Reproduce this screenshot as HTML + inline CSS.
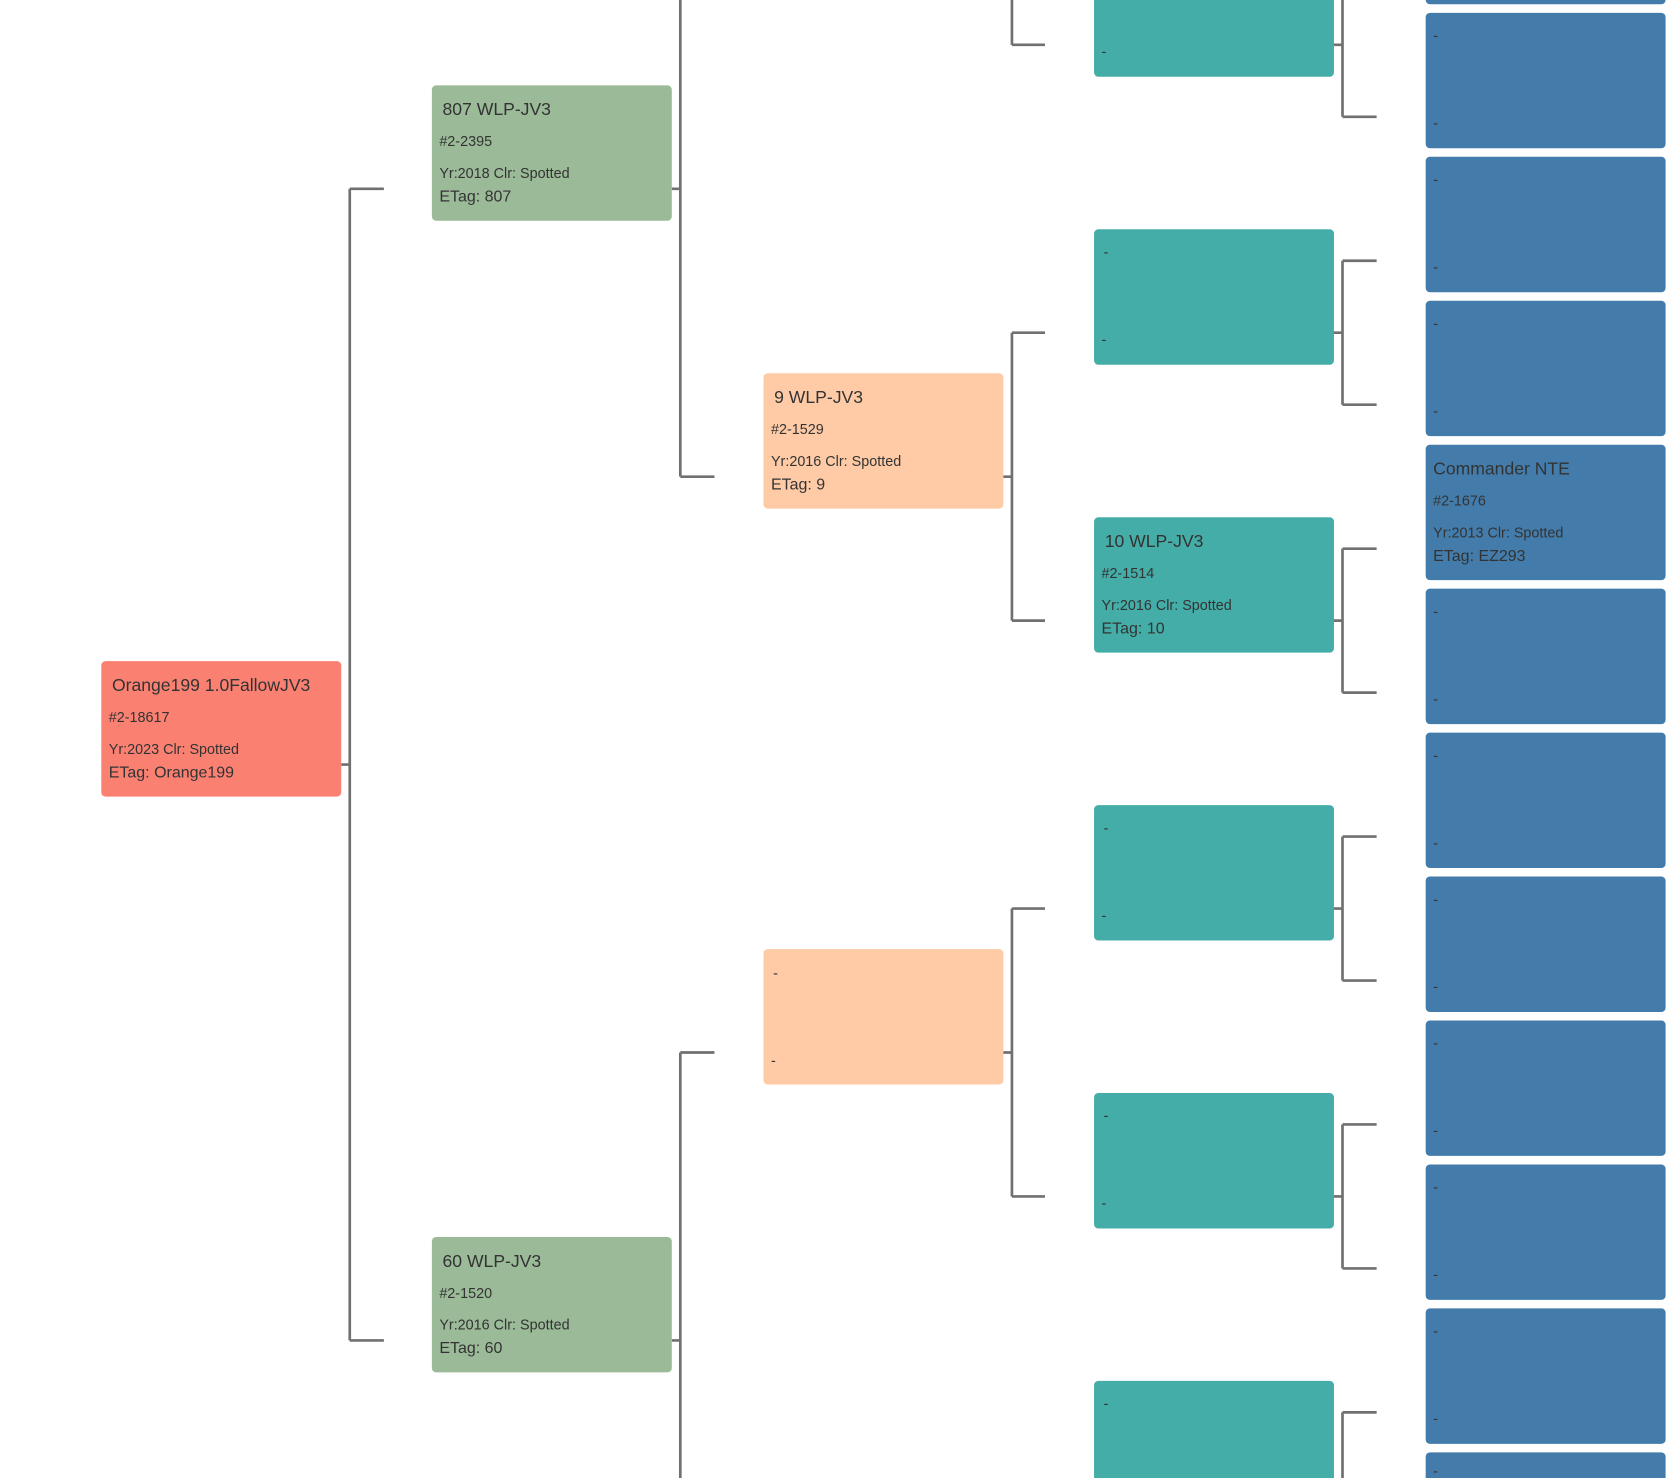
<!DOCTYPE html>
<html><head><meta charset="utf-8"><style>
html,body{margin:0;padding:0;background:#fff;width:1672px;height:1478px;overflow:hidden}
svg{display:block}
text{font-family:"Liberation Sans",sans-serif;fill:#333}
.t{font-size:16.5px}.s{font-size:13.5px}.e{font-size:15px}
</style></head><body>
<svg width="1672" height="1478" viewBox="0 0 1568 1386" xmlns="http://www.w3.org/2000/svg">
<g stroke="#707070" stroke-width="2.5" fill="none">
<path d="M320 717H328M328 177V1257M328 177H360M328 1257H360"/>
<path d="M630 177H638M638 -93V447M638 447H670"/>
<path d="M630 1257H638M638 987V1527M638 987H670"/>
<path d="M940 447H949M949 312V582M949 312H980M949 582H980"/>
<path d="M940 987H949M949 852V1122M949 852H980M949 1122H980"/>
<path d="M949 -228V42M949 42H980"/>
<path d="M1250 42H1259M1259 -25.5V109.5M1259 109.5H1291"/>
<path d="M1250 312H1259M1259 244.5V379.5M1259 244.5H1291M1259 379.5H1291"/>
<path d="M1250 582H1259M1259 514.5V649.5M1259 514.5H1291M1259 649.5H1291"/>
<path d="M1250 852H1259M1259 784.5V919.5M1259 784.5H1291M1259 919.5H1291"/>
<path d="M1250 1122H1259M1259 1054.5V1189.5M1259 1054.5H1291M1259 1189.5H1291"/>
<path d="M1250 1392H1259M1259 1324.5V1459.5M1259 1324.5H1291"/>
</g>
<!-- root -->
<rect x="95" y="620" width="225" height="127" rx="4" fill="#FA8072"/>
<text class="t" x="105" y="648">Orange199 1.0FallowJV3</text>
<text class="s" x="102" y="677">#2-18617</text>
<text class="s" x="102" y="707">Yr:2023  Clr: Spotted</text>
<text class="e" x="102" y="729">ETag: Orange199</text>
<!-- col2 -->
<rect x="405" y="80" width="225" height="127" rx="4" fill="#9BBA98"/>
<text class="t" x="415" y="108">807 WLP-JV3</text>
<text class="s" x="412" y="137">#2-2395</text>
<text class="s" x="412" y="167">Yr:2018  Clr: Spotted</text>
<text class="e" x="412" y="189">ETag: 807</text>
<rect x="405" y="1160" width="225" height="127" rx="4" fill="#9BBA98"/>
<text class="t" x="415" y="1188">60 WLP-JV3</text>
<text class="s" x="412" y="1217">#2-1520</text>
<text class="s" x="412" y="1247">Yr:2016  Clr: Spotted</text>
<text class="e" x="412" y="1269">ETag: 60</text>
<!-- col3 -->
<rect x="716" y="350" width="225" height="127" rx="4" fill="#FFCBA6"/>
<text class="t" x="726" y="378">9 WLP-JV3</text>
<text class="s" x="723" y="407">#2-1529</text>
<text class="s" x="723" y="437">Yr:2016  Clr: Spotted</text>
<text class="e" x="723" y="459">ETag: 9</text>
<rect x="716" y="890" width="225" height="127" rx="4" fill="#FFCBA6"/>
<text class="s" x="725" y="917">-</text><text class="s" x="723" y="999">-</text>
<!-- col4 -->
<g fill="#45ADA8">
<rect x="1026" y="-55" width="225" height="127" rx="4"/>
<rect x="1026" y="215" width="225" height="127" rx="4"/>
<rect x="1026" y="485" width="225" height="127" rx="4"/>
<rect x="1026" y="755" width="225" height="127" rx="4"/>
<rect x="1026" y="1025" width="225" height="127" rx="4"/>
<rect x="1026" y="1295" width="225" height="127" rx="4"/>
</g>
<text class="s" x="1033" y="53">-</text>
<text class="s" x="1035" y="241">-</text><text class="s" x="1033" y="323">-</text>
<text class="t" x="1036" y="513">10 WLP-JV3</text>
<text class="s" x="1033" y="542">#2-1514</text>
<text class="s" x="1033" y="572">Yr:2016  Clr: Spotted</text>
<text class="e" x="1033" y="594">ETag: 10</text>
<text class="s" x="1035" y="781">-</text><text class="s" x="1033" y="863">-</text>
<text class="s" x="1035" y="1051">-</text><text class="s" x="1033" y="1133">-</text>
<text class="s" x="1035" y="1321">-</text>
<!-- col5 -->
<g fill="#437CAB">
<rect x="1337" y="-123" width="225" height="127" rx="4"/>
<rect x="1337" y="12" width="225" height="127" rx="4"/>
<rect x="1337" y="147" width="225" height="127" rx="4"/>
<rect x="1337" y="282" width="225" height="127" rx="4"/>
<rect x="1337" y="417" width="225" height="127" rx="4"/>
<rect x="1337" y="552" width="225" height="127" rx="4"/>
<rect x="1337" y="687" width="225" height="127" rx="4"/>
<rect x="1337" y="822" width="225" height="127" rx="4"/>
<rect x="1337" y="957" width="225" height="127" rx="4"/>
<rect x="1337" y="1092" width="225" height="127" rx="4"/>
<rect x="1337" y="1227" width="225" height="127" rx="4"/>
<rect x="1337" y="1362" width="225" height="127" rx="4"/>
</g>
<text class="s" x="1344" y="38">-</text><text class="s" x="1344" y="120">-</text>
<text class="s" x="1344" y="173">-</text><text class="s" x="1344" y="255">-</text>
<text class="s" x="1344" y="308">-</text><text class="s" x="1344" y="390">-</text>
<text class="t" x="1344" y="445">Commander NTE</text>
<text class="s" x="1344" y="474">#2-1676</text>
<text class="s" x="1344" y="504">Yr:2013  Clr: Spotted</text>
<text class="e" x="1344" y="526">ETag: EZ293</text>
<text class="s" x="1344" y="578">-</text><text class="s" x="1344" y="660">-</text>
<text class="s" x="1344" y="713">-</text><text class="s" x="1344" y="795">-</text>
<text class="s" x="1344" y="848">-</text><text class="s" x="1344" y="930">-</text>
<text class="s" x="1344" y="983">-</text><text class="s" x="1344" y="1065">-</text>
<text class="s" x="1344" y="1118">-</text><text class="s" x="1344" y="1200">-</text>
<text class="s" x="1344" y="1253">-</text><text class="s" x="1344" y="1335">-</text>
<text class="s" x="1344" y="1384">-</text>
</svg>
</body></html>
